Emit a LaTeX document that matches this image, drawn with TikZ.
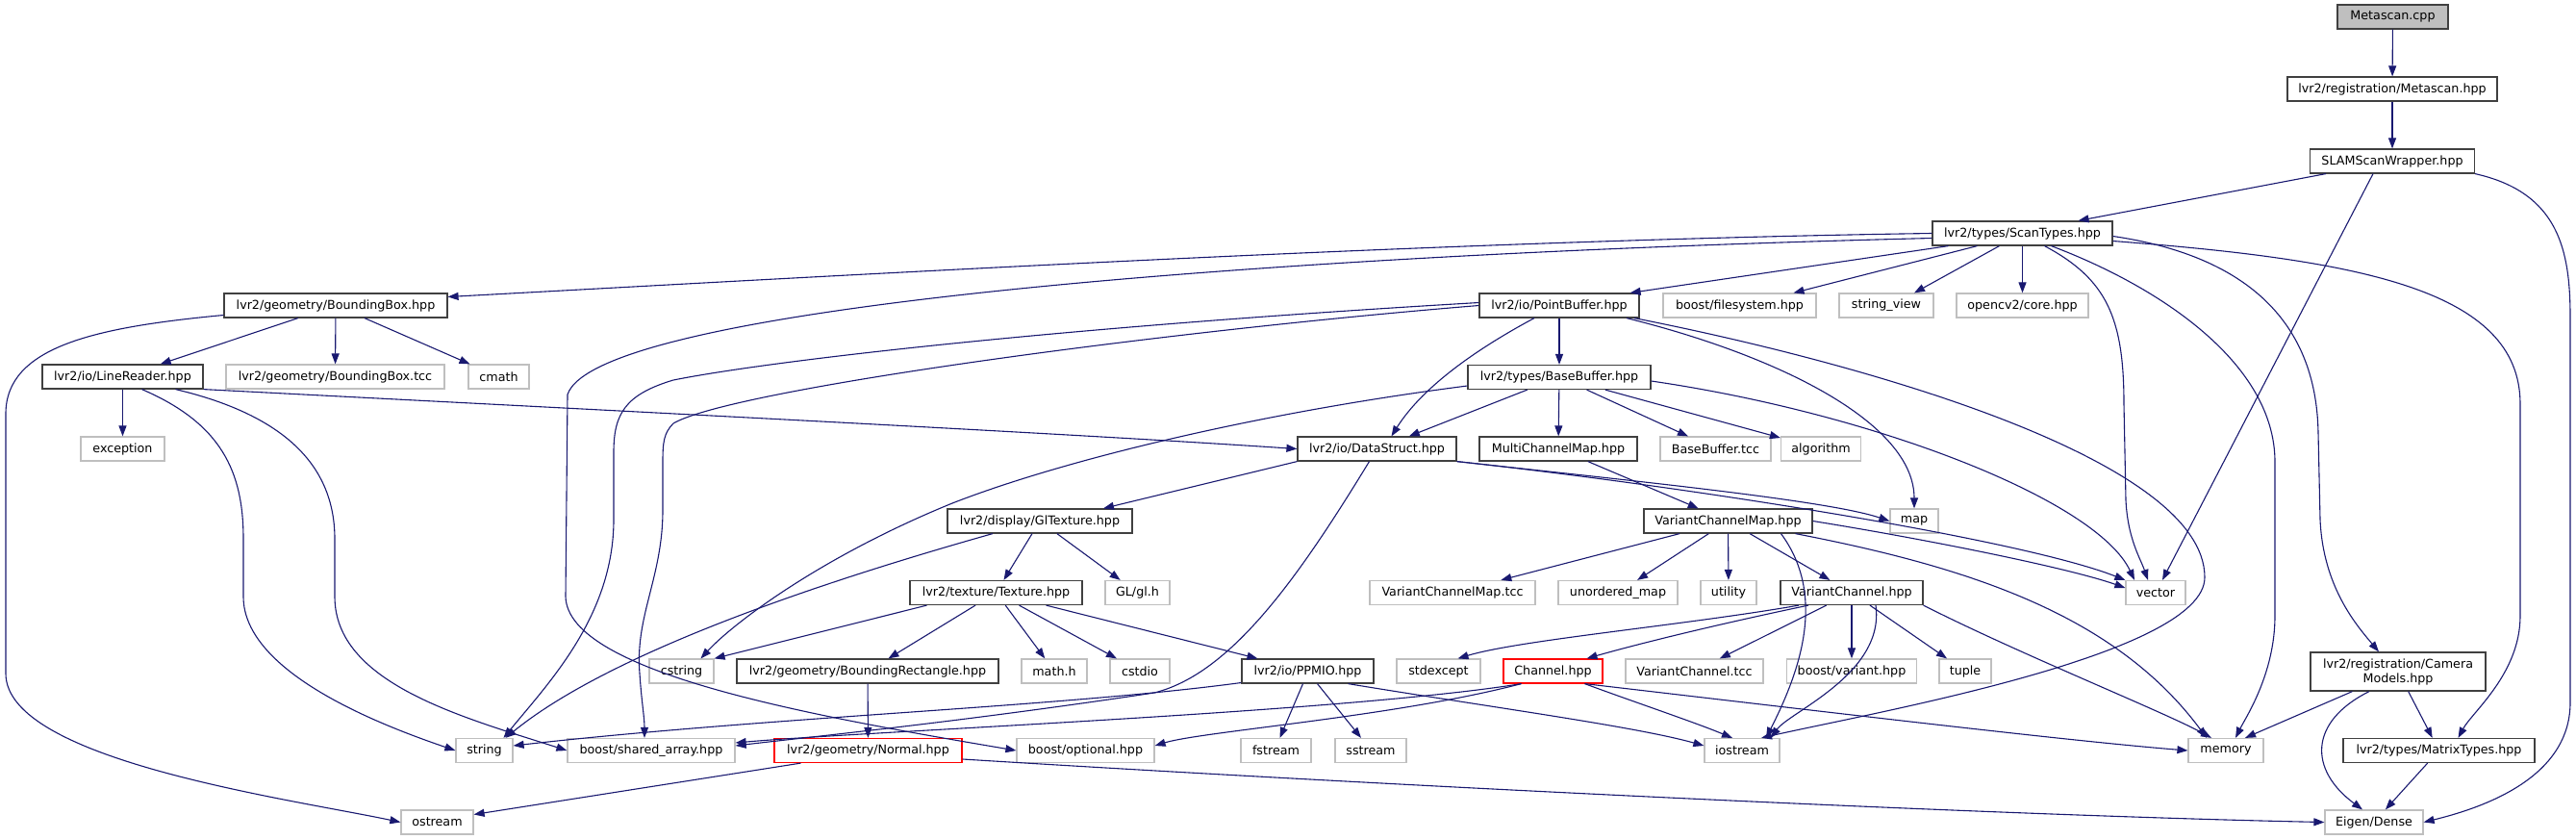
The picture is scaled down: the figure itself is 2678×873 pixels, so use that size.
\documentclass[tikz,border=0pt]{standalone}
\usepackage{fontspec}
\setmainfont{DejaVu Sans}
\usetikzlibrary{arrows.meta}
\definecolor{edgeblue}{HTML}{191970}
\definecolor{lgray}{HTML}{BFBFBF}
\definecolor{dgray}{HTML}{404040}
\tikzset{
  box/.style={draw=dgray, line width=1.2pt, fill=white, inner sep=0pt, minimum height=25pt, font=\fontsize{12.7}{14}\selectfont, text=black},
  sys/.style={box, draw=lgray},
  redbox/.style={box, draw=red},
  rootbox/.style={box, fill=lgray},
  e/.style={draw=edgeblue, line width=1.1pt, -{Triangle[length=11pt,width=8pt]}},
}
\begin{document}
\begin{tikzpicture}[x=1pt,y=-1pt]
\useasboundingbox (0,0) rectangle (2678,873);
% row 1-4
\node[rootbox, minimum width=115pt] (mcpp) at (2487.5,17.5) {Metascan.cpp};
\node[box, minimum width=218pt] (mhpp) at (2487,92.5) {lvr2/registration/Metascan.hpp};
\node[box, minimum width=171pt] (slam) at (2487,167.5) {SLAMScanWrapper.hpp};
\node[box, minimum width=187pt] (st) at (2102.5,242.5) {lvr2/types/ScanTypes.hpp};
% row 5
\node[box, minimum width=232pt] (bb) at (349,317.5) {lvr2/geometry/BoundingBox.hpp};
\node[box, minimum width=166pt] (pb) at (1621,317.5) {lvr2/io/PointBuffer.hpp};
\node[sys, minimum width=159pt] (fs) at (1808.5,317.5) {boost/filesystem.hpp};
\node[sys, minimum width=98pt] (sv) at (1961,317.5) {string\_view};
\node[sys, minimum width=137pt] (cv) at (2102.5,317.5) {opencv2/core.hpp};
% row 6
\node[box, minimum width=167pt] (lr) at (127.5,391.5) {lvr2/io/LineReader.hpp};
\node[sys, minimum width=227pt] (bbtcc) at (348.5,391.5) {lvr2/geometry/BoundingBox.tcc};
\node[sys, minimum width=63pt] (cmath) at (518.5,391.5) {cmath};
\node[box, minimum width=190pt] (bbuf) at (1621,392) {lvr2/types/BaseBuffer.hpp};
% row 7
\node[sys, minimum width=87pt] (exc) at (127.5,466.5) {exception};
\node[box, minimum width=165pt] (ds) at (1431.5,466.5) {lvr2/io/DataStruct.hpp};
\node[box, minimum width=164pt] (mcm) at (1620,466.5) {MultiChannelMap.hpp};
\node[sys, minimum width=115pt] (bbtc) at (1783.5,466.5) {BaseBuffer.tcc};
\node[sys, minimum width=83pt] (alg) at (1893,466.5) {algorithm};
% row 8
\node[box, minimum width=192pt] (gl) at (1081,541.5) {lvr2/display/GlTexture.hpp};
\node[box, minimum width=175pt] (vcm) at (1796.5,541.5) {VariantChannelMap.hpp};
\node[sys, minimum width=50pt] (map) at (1990,541.5) {map};
% row 9
\node[box, minimum width=179pt] (tex) at (1035.5,616) {lvr2/texture/Texture.hpp};
\node[sys, minimum width=67pt] (glh) at (1182.5,616) {GL/gl.h};
\node[sys, minimum width=172pt] (vcmtcc) at (1510,616) {VariantChannelMap.tcc};
\node[sys, minimum width=124pt] (umap) at (1682,616) {unordered\_map};
\node[sys, minimum width=58pt] (util) at (1797,616) {utility};
\node[box, minimum width=148pt] (vc) at (1925,616) {VariantChannel.hpp};
\node[sys, minimum width=62pt] (vec) at (2241,616) {vector};
% row 10
\node[sys, minimum width=67pt] (cstr) at (708.5,697.5) {cstring};
\node[box, minimum width=272pt] (brect) at (902,697.5) {lvr2/geometry/BoundingRectangle.hpp};
\node[sys, minimum width=68pt] (math) at (1096,697.5) {math.h};
\node[sys, minimum width=62pt] (cstdio) at (1185,697.5) {cstdio};
\node[box, minimum width=137pt] (ppm) at (1359.5,697.5) {lvr2/io/PPMIO.hpp};
\node[sys, minimum width=87pt] (stdexc) at (1495.5,697.5) {stdexcept};
\node[redbox, minimum width=103pt] (chan) at (1614.5,697.5) {Channel.hpp};
\node[sys, minimum width=143pt] (vctcc) at (1761.5,697.5) {VariantChannel.tcc};
\node[sys, minimum width=135pt] (bvar) at (1925,697.5) {boost/variant.hpp};
\node[sys, minimum width=54pt] (tuple) at (2043,697.5) {tuple};
\node[box, minimum width=182pt, minimum height=40pt, align=center, font=\fontsize{12.7}{15}\selectfont] (cam) at (2493,698) {lvr2/registration/Camera\\Models.hpp};
% row 11
\node[sys, minimum width=59pt] (str) at (503.5,780) {string};
\node[sys, minimum width=174pt] (sa) at (677,780) {boost/shared\_array.hpp};
\node[redbox, minimum width=195pt] (normal) at (902.5,780) {lvr2/geometry/Normal.hpp};
\node[sys, minimum width=143pt] (opt) at (1128.5,780) {boost/optional.hpp};
\node[sys, minimum width=73pt] (fst) at (1326.5,780) {fstream};
\node[sys, minimum width=74pt] (sst) at (1425,780) {sstream};
\node[sys, minimum width=78pt] (ios) at (1811,780) {iostream};
\node[sys, minimum width=78pt] (mem) at (2314,780) {memory};
\node[box, minimum width=199pt] (mat) at (2535.5,780) {lvr2/types/MatrixTypes.hpp};
% row 12
\node[sys, minimum width=75pt] (ost) at (454.5,854.5) {ostream};
\node[sys, minimum width=102pt] (eig) at (2468,854.5) {Eigen/Dense};

% ---- edges ----
\draw[e] (mcpp) -- (mhpp);
\draw[e] (mhpp) -- (slam);
\draw[e] (slam) -- ([xshift=58pt]st.north);
\draw[e] ([xshift=-20pt]slam.south) -- ([xshift=7pt]vec.north);
\draw[e] (slam.south east) .. controls (2660,200) and (2672,260) .. (2672,330) -- (2672,730) .. controls (2672,800) and (2600,835) .. (eig.east);

\draw[e] (st.west) .. controls (1500,250) and (900,285) .. ([yshift=9pt]bb.east);
\draw[e] ([yshift=-5pt]st.west) .. controls (1300,265) and (620,320) .. (590,410) -- (588,620) .. controls (590,700) and (850,745) .. (opt.west);
\draw[e] ([xshift=-77pt]st.south) -- ([xshift=-10pt]pb.north east);
\draw[e] ([xshift=-47pt]st.south) -- ([xshift=56pt]fs.north);
\draw[e] ([xshift=-24pt]st.south) -- ([xshift=29pt]sv.north);
\draw[e] (st) -- (cv);
\draw[e] ([xshift=23pt]st.south) .. controls (2190,290) and (2208,330) .. (2208,420) -- (2210,520) .. controls (2212,560) and (2225,580) .. ([xshift=-8pt]vec.north);
\draw[e] ([xshift=30pt]st.south) .. controls (2250,300) and (2365,380) .. (2365,480) -- (2365,640) .. controls (2365,700) and (2335,745) .. ([xshift=10pt]mem.north);
\draw[e] ([yshift=-3pt]st.east) .. controls (2330,265) and (2408,330) .. (2410,450) -- (2412,540) .. controls (2415,610) and (2450,650) .. ([xshift=-20pt]cam.north);
\draw[e] ([yshift=-8pt]st.east) .. controls (2450,270) and (2620,300) .. (2620,420) -- (2620,640) .. controls (2620,700) and (2570,740) .. ([xshift=20pt]mat.north);

\draw[e] (bb) -- (lr);
\draw[e] (bb) -- (bbtcc);
\draw[e] (bb) -- (cmath);
\draw[e] ([yshift=-10pt]bb.west) .. controls (100,340) and (6,360) .. (6,430) -- (6,700) .. controls (6,790) and (300,830) .. (ost.west);

\draw[e] (lr) -- (exc);
\draw[e] (lr.south east) .. controls (700,430) and (1100,450) .. (ds.west);
\draw[e] ([xshift=20pt]lr.south) .. controls (230,440) and (253,490) .. (253,560) -- (253,620) .. controls (253,700) and (400,755) .. (str.west);
\draw[e] ([xshift=55pt]lr.south) .. controls (290,430) and (348,480) .. (348,560) -- (348,620) .. controls (348,710) and (480,745) .. (sa.west);

\draw[e] ([yshift=3pt]pb.west) .. controls (1100,340) and (800,375) .. (700,395) .. controls (650,410) and (638,430) .. (638,470) -- (638,540) .. controls (638,640) and (570,710) .. ([xshift=20pt]str.north);
\draw[e] (pb.west) .. controls (1200,345) and (760,405) .. (700,440) .. controls (690,450) and (689,460) .. (689,480) -- (689,530) .. controls (689,600) and (660,640) .. (665,700) .. controls (667,730) and (670,745) .. ([xshift=-7pt]sa.north);
\draw[e] ([xshift=-26pt]pb.south) .. controls (1540,360) and (1480,400) .. ([xshift=15pt]ds.north);
\draw[e] (pb) -- (bbuf);
\draw[e] ([xshift=70pt]pb.south) .. controls (1850,370) and (1990,440) .. (map.north);
\draw[e] ([xshift=78pt]pb.south) .. controls (1950,380) and (2292,480) .. (2292,600) .. controls (2292,680) and (1950,740) .. ([xshift=20pt]ios.north);

\draw[e] (bbuf) -- (ds);
\draw[e] ([yshift=-9pt]bbuf.west) .. controls (1300,430) and (1100,480) .. (990,523) .. controls (850,580) and (760,650) .. ([xshift=20pt]cstr.north);
\draw[e] (bbuf) -- (mcm);
\draw[e] (bbuf) -- (bbtc);
\draw[e] (bbuf) -- (alg);
\draw[e] ([yshift=-4pt]bbuf.east) .. controls (1950,430) and (2180,520) .. ([xshift=-22pt]vec.north);

\draw[e] (ds.south west) -- ([xshift=66pt]gl.north);
\draw[e] (ds.south east) .. controls (1700,500) and (1900,520) .. (map.west);
\draw[e] (ds.south east) .. controls (1750,505) and (2100,560) .. (vec.north west);
\draw[e] ([xshift=-8pt]ds.south) .. controls (1350,600) and (1280,700) .. (1200,720) .. controls (1000,750) and (850,765) .. ([yshift=5pt]sa.east);

\draw[e] (mcm) -- (vcm);
\draw[e] (gl) -- (tex);
\draw[e] (gl) -- (glh);
\draw[e] ([xshift=-49pt]gl.south) .. controls (800,620) and (620,690) .. ([xshift=22pt]str.north);

\draw[e] ([xshift=-72pt]tex.south) -- (cstr.north east);
\draw[e] (tex) -- (brect);
\draw[e] (tex) -- (math);
\draw[e] (tex) -- (cstdio);
\draw[e] (tex) -- (ppm);
\draw[e] (brect) -- (normal);
\draw[e] ([xshift=-70pt]normal.south) -- ([yshift=8pt]ost.east);
\draw[e] ([yshift=-9pt]normal.east) .. controls (1500,820) and (2100,848) .. (eig.west);

\draw[e] ([yshift=-12pt]ppm.west) .. controls (1100,735) and (800,745) .. ([yshift=5pt]str.east);
\draw[e] ([xshift=-5pt]ppm.south) -- ([xshift=4pt]fst.north);
\draw[e] ([xshift=10pt]ppm.south) -- ([xshift=-10pt]sst.north);
\draw[e] ([xshift=42pt]ppm.south) .. controls (1550,735) and (1700,755) .. ([yshift=5pt]ios.west);

\draw[e] (vcm) -- (vcmtcc);
\draw[e] (vcm) -- (umap);
\draw[e] (vcm) -- (util);
\draw[e] (vcm) -- (vc);
\draw[e] (vcm.east) .. controls (2000,560) and (2150,590) .. ([yshift=5pt]vec.west);
\draw[e] ([xshift=70pt]vcm.south) .. controls (2050,590) and (2200,640) .. ([xshift=-20pt]mem.north);
\draw[e] ([xshift=55pt]vcm.south) .. controls (1900,620) and (1870,700) .. ([xshift=25pt]ios.north);

\draw[e] ([xshift=-55pt]vc.south) .. controls (1750,650) and (1580,665) .. ([xshift=20pt]stdexc.north);
\draw[e] ([xshift=-45pt]vc.south) .. controls (1780,650) and (1700,670) .. ([xshift=35pt]chan.north);
\draw[e] (vc) -- (vctcc);
\draw[e] (vc) -- (bvar);
\draw[e] (vc) -- (tuple);
\draw[e] ([xshift=25pt]vc.south) .. controls (1960,700) and (1860,740) .. ([xshift=30pt]ios.north);
\draw[e] (vc.south east) .. controls (2100,680) and (2250,740) .. ([xshift=-15pt]mem.north);

\draw[e] ([xshift=-33pt]chan.south) .. controls (1400,740) and (900,760) .. ([yshift=8pt]sa.east);
\draw[e] ([xshift=-33pt]chan.south) .. controls (1450,745) and (1250,760) .. ([yshift=5pt]opt.east);
\draw[e] ([xshift=33pt]chan.south) .. controls (1700,730) and (1760,750) .. ([xshift=-10pt]ios.north);
\draw[e] ([xshift=33pt]chan.south) .. controls (1900,740) and (2150,770) .. (mem.west);

\draw[e] (cam) -- ([xshift=20pt]mem.north);
\draw[e] (cam) -- (mat);
\draw[e] ([xshift=-30pt]cam.south) .. controls (2400,750) and (2400,800) .. ([xshift=-12pt]eig.north);
\draw[e] (mat) -- (eig);
\end{tikzpicture}
\end{document}
